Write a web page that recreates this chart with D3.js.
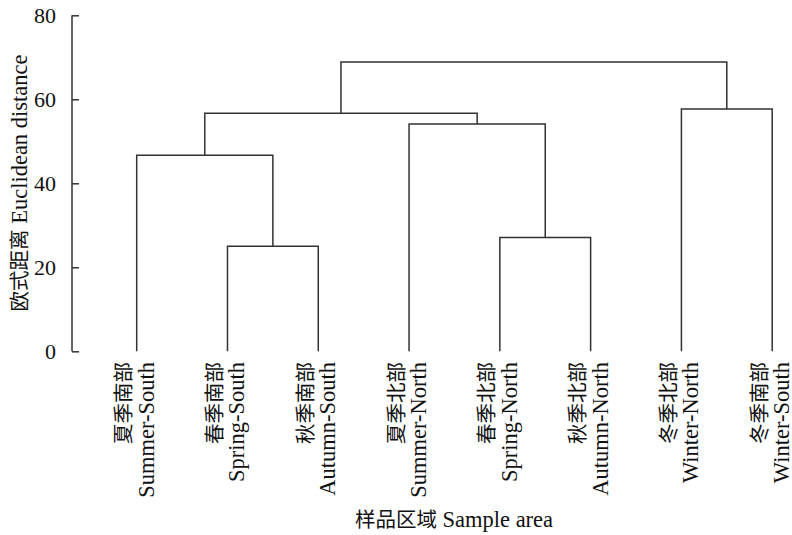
<!DOCTYPE html>
<html>
<head>
<meta charset="utf-8">
<script src="https://cdn.jsdelivr.net/npm/d3@7"></script>
<style>
  body { margin: 0; background: #fff; }
  text { font-family: "Liberation Serif", "Noto Sans CJK SC", serif; fill: #111; }
  .link { fill: none; stroke: #333; stroke-width: 1.5; }
  .axis path, .axis line { stroke: #333; stroke-width: 1.5; }
</style>
</head>
<body>
<svg id="chart" width="792" height="535"></svg>
<script>
// leaves in drawing order
var leavesZh = ['夏季南部', '春季南部', '秋季南部', '夏季北部', '春季北部', '秋季北部', '冬季北部', '冬季南部'];
var leavesEn = ['Summer-South', 'Spring-South', 'Autumn-South', 'Summer-North', 'Spring-North', 'Autumn-North', 'Winter-North', 'Winter-South'];

// linkage: [left node, right node, height]; new node ids start after the leaves
var mergeLeft = [1, 0, 4, 3, 9, 6, 12];
var mergeRight = [2, 8, 5, 10, 11, 7, 13];
var mergeHeight = [25.0, 46.7, 27.1, 54.1, 56.7, 57.7, 68.9];

var yTicks = [0, 20, 40, 60, 80];

var svg = d3.select('#chart');

var x = d3.scalePoint()
    .domain(d3.range(leavesEn.length))
    .range([136.7, 772.2]);

var y = d3.scaleLinear()
    .domain([0, 80])
    .range([351.3, 15.3]);

// position of every node (leaf or merge)
var nodeX = leavesEn.map(function(d, i) { return x(i); });
var nodeH = leavesEn.map(function() { return 0; });

mergeLeft.forEach(function(a, i) {
    var b = mergeRight[i];
    var h = mergeHeight[i];
    svg.append('path')
        .attr('class', 'link')
        .attr('d', 'M' + nodeX[a] + ',' + y(nodeH[a]) +
                   'V' + y(h) + 'H' + nodeX[b] + 'V' + y(nodeH[b]));
    nodeX.push((nodeX[a] + nodeX[b]) / 2);
    nodeH.push(h);
});

// y axis, ticks pointing inward
var yAxis = svg.append('g')
    .attr('class', 'axis')
    .attr('transform', 'translate(72,0)')
    .call(d3.axisLeft(y).tickValues(yTicks).tickSize(-7).tickSizeOuter(0).tickPadding(16));
yAxis.selectAll('text')
    .style('font-size', '22px')
    .style('font-family', '"Liberation Serif", serif')
    .attr('fill', '#111');
yAxis.select('.domain').attr('d', 'M0,' + y(80) + 'V' + y(0));

// leaf labels
var labels = svg.append('g')
    .selectAll('g')
    .data(leavesEn)
    .join('g')
    .attr('transform', function(d, i) { return 'translate(' + x(i) + ',362) rotate(-90)'; });

labels.append('text')
    .attr('text-anchor', 'end')
    .attr('y', -5.5)
    .style('font-family', '"Noto Sans CJK SC", sans-serif')
    .style('font-size', '20.5px')
    .text(function(d, i) { return leavesZh[i]; });

labels.append('text')
    .attr('text-anchor', 'end')
    .attr('y', 17)
    .style('font-size', '22.5px')
    .text(function(d) { return d; });

// axis titles
var yTitle = svg.append('text')
    .attr('text-anchor', 'middle')
    .attr('transform', 'translate(27,183) rotate(-90)');
yTitle.append('tspan')
    .style('font-family', '"Noto Sans CJK SC", sans-serif')
    .style('font-size', '20.5px')
    .text('欧式距离');
yTitle.append('tspan')
    .style('font-size', '22.5px')
    .text(' Euclidean distance');

var xTitle = svg.append('text')
    .attr('text-anchor', 'middle')
    .attr('x', 454)
    .attr('y', 527);
xTitle.append('tspan')
    .style('font-family', '"Noto Sans CJK SC", sans-serif')
    .style('font-size', '20.5px')
    .text('样品区域');
xTitle.append('tspan')
    .style('font-size', '22.5px')
    .text(' Sample area');
</script>
</body>
</html>
